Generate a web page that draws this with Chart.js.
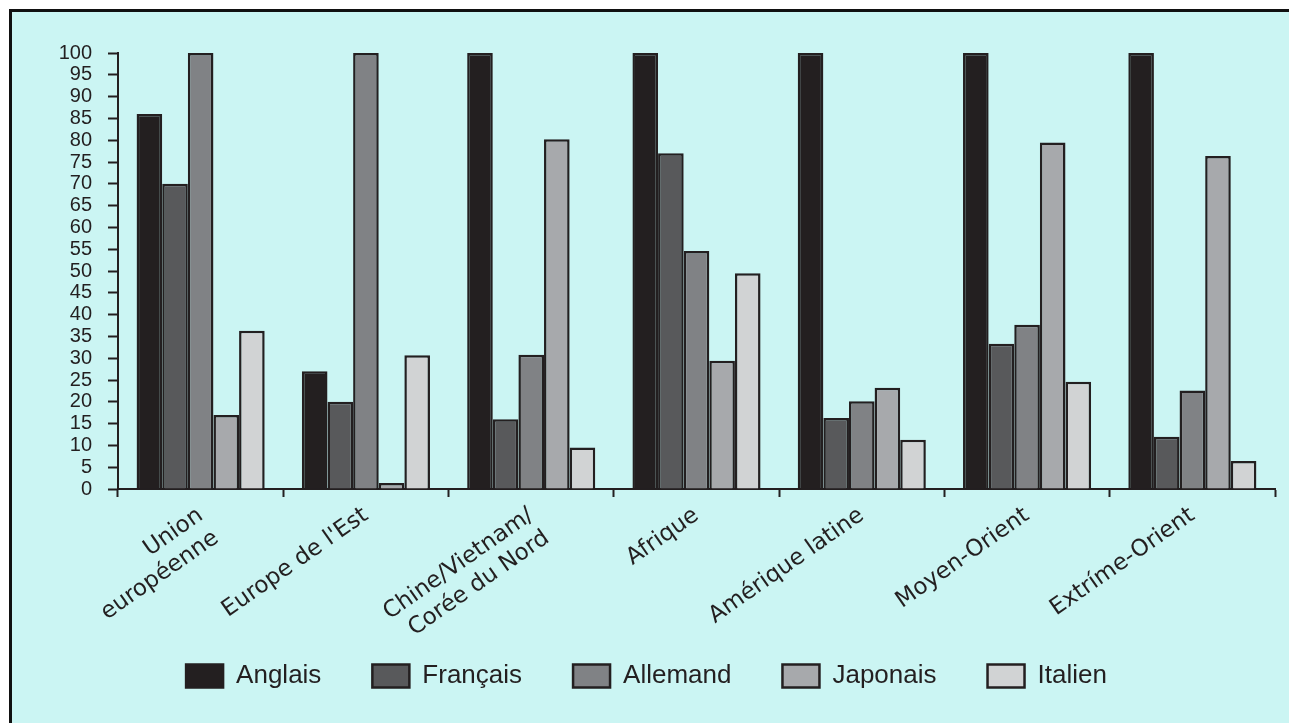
<!DOCTYPE html>
<html lang="fr">
<head>
<meta charset="utf-8">
<title>Langues étrangères par région</title>
<script src="https://cdn.jsdelivr.net/npm/chart.js@4/dist/chart.umd.min.js"></script>
<style>
  html, body { margin: 0; padding: 0; background: #ffffff; overflow: hidden; }
  .frame {
    position: absolute; left: 9px; top: 9px;
    width: 1300px; height: 740px;
    border: 3px solid #111111;
    background: #cbf5f3;
  }
  #chart { position: absolute; left: 0; top: 0; }
</style>
</head>
<body>
<div class="frame"></div>
<canvas id="chart" width="1289" height="723"></canvas>
<script>
// Régions (étiquettes de l'axe horizontal)
const categories = [
  ["Union", "européenne"],
  "Europe de l'Est",
  ["Chine/Vietnam/", "Corée du Nord"],
  "Afrique",
  "Amérique latine",
  "Moyen-Orient",
  "Extríme-Orient"
];

// Valeurs par langue, une valeur par région
const anglais  = [86, 27, 100, 100, 100, 100, 100];
const francais = [70, 20, 16, 77, 16.3, 33.3, 12];
const allemand = [100, 100, 30.8, 54.6, 20.1, 37.7, 22.6];
const japonais = [17, 1.4, 80.2, 29.4, 23.2, 79.5, 76.4];
const italien  = [36.3, 30.7, 9.5, 49.5, 11.3, 24.6, 6.4];

const seriesNames = ["Anglais", "Français", "Allemand", "Japonais", "Italien"];
const seriesColors = ["#231f20", "#58595b", "#808285", "#a7a9ac", "#d1d3d4"];
const seriesData = [anglais, francais, allemand, japonais, italien];

// Graduations de l'axe vertical
const yMin = 0, yMax = 100, yStep = 5;

const ink = "#231f20";
const fontFamily = "'Liberation Sans', Arial, Helvetica, sans-serif";
const labelFamily = "'DejaVu Sans', Verdana, sans-serif";

const datasets = seriesNames.map((name, i) => ({
  label: name,
  data: seriesData[i],
  backgroundColor: seriesColors[i],
  borderColor: ink,
  borderWidth: 2.5,
  categoryPercentage: 0.775,
  barPercentage: 1.0
}));

// Les étiquettes inclinées débordent sous la légende : on agrandit
// la zone de découpe de l'axe des x jusqu'au bas du canevas.
const extendLabelArea = {
  id: "extendLabelArea",
  afterLayout(chart) {
    chart.scales.x.bottom = chart.height;
  }
};

new Chart(document.getElementById("chart"), {
  type: "bar",
  data: { labels: categories, datasets },
  plugins: [extendLabelArea],
  options: {
    responsive: false,
    devicePixelRatio: 1,
    animation: false,
    layout: { padding: { left: 18, right: 14, top: 53, bottom: 24 } },
    plugins: {
      tooltip: { enabled: false },
      legend: {
        position: "bottom",
        labels: {
          color: ink,
          font: { family: fontFamily, size: 26 },
          boxWidth: 37,
          boxHeight: 23,
          padding: 51
        }
      }
    },
    scales: {
      x: {
        grid: {
          offset: true,
          drawOnChartArea: false,
          drawTicks: true,
          tickLength: 8,
          tickWidth: 2,
          tickColor: ink
        },
        border: { display: true, color: ink, width: 2 },
        ticks: {
          color: ink,
          font: { family: labelFamily, size: 23, lineHeight: 1.2 },
          minRotation: 35,
          maxRotation: 35,
          autoSkip: false,
          padding: 5
        },
        afterFit: (scale) => { scale.height = 123; }
      },
      y: {
        min: yMin,
        max: yMax,
        grid: {
          drawOnChartArea: false,
          drawTicks: true,
          tickLength: 10,
          tickWidth: 2,
          tickColor: ink
        },
        border: { display: true, color: ink, width: 2 },
        ticks: {
          stepSize: yStep,
          autoSkip: false,
          color: ink,
          font: { family: fontFamily, size: 20 },
          padding: 16
        },
        afterFit: (scale) => { scale.width = 100; }
      }
    }
  }
});
</script>
</body>
</html>
